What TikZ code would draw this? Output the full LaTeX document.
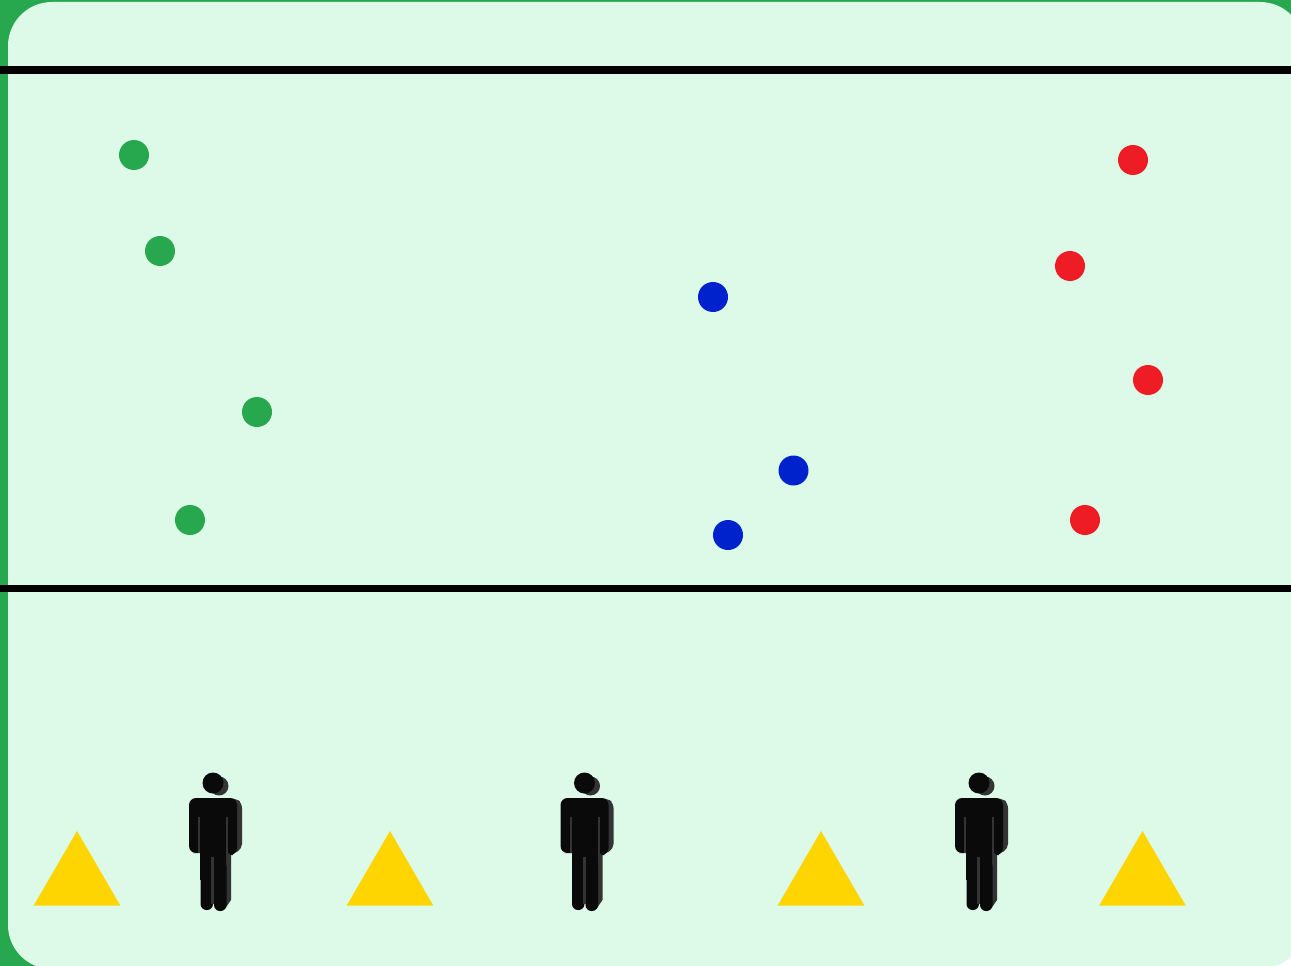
\documentclass[tikz,border=0pt]{standalone}
\definecolor{edgegreen}{HTML}{27A84F}
\definecolor{pale}{HTML}{DDFAE8}
\definecolor{dotgreen}{HTML}{27A84F}
\definecolor{dotred}{HTML}{EE1C25}
\definecolor{dotblue}{HTML}{0022CC}
\definecolor{cone}{HTML}{FFD500}
\definecolor{figfront}{HTML}{0A0A0A}
\definecolor{figside}{HTML}{343434}
\tikzset{
  court/.style={fill=pale,rounded corners=44pt},
  fieldline/.style={draw=black,line width=7.7pt},
  dotg/.style={circle,fill=dotgreen,minimum size=30pt,inner sep=0pt},
  dotr/.style={circle,fill=dotred,minimum size=30pt,inner sep=0pt},
  dotb/.style={circle,fill=dotblue,minimum size=30pt,inner sep=0pt},
  conemark/.style={fill=cone},
  personfig/.pic={
    % side faces
    \fill[figside] (219,786) circle [radius=9.5];
    \fill[figside,rounded corners=5pt] (215,798) -- (236,798.5) -- (242,803) -- (242,849) -- (232,854.5) -- (228,854.5) -- (228,800) -- cycle;
    \fill[figside] (222,850) -- (231,850) -- (231,900) -- (225.5,908) -- (222,908) -- cycle;
    % front: head, torso with arms, legs
    \fill[figfront] (213,783) circle [radius=10.5];
    \fill[figfront,rounded corners=7pt] (189,853) -- (189,798) -- (237,798) -- (237,855) -- (226,855) -- (226,853) -- (200,853) -- cycle;
    \fill[figfront] (200,830) rectangle (226,880);
    \fill[figfront,rounded corners=6pt] (200.5,860) -- (213,860) -- (213,910) -- (200.5,910) -- cycle;
    \fill[figfront,rounded corners=6pt] (214,860) -- (226.5,860) -- (226.5,911) -- (214,911) -- cycle;
    % interior folds
    \fill[figside] (198,817) rectangle (200.3,853);
    \fill[figside] (226,817) rectangle (228.3,853);
    \fill[figside] (211.3,857) rectangle (214.3,904);
  }
}
\begin{document}
\begin{tikzpicture}[x=1pt,y=-1pt]
  \useasboundingbox (0,0) rectangle (1291,966);
  \fill[white] (0,0) rectangle (1291,966);
  \fill[edgegreen] (0,0) -- (1291,0) -- (1291,900) -- (1240,966) -- (0,966) -- cycle;
  \fill[court] (8,2) rectangle (1304,969);
  \draw[fieldline] (0,70.3) -- (1291,70.3);
  \draw[fieldline] (0,588.6) -- (1291,588.6);
  \node[dotg] (g1) at (134,155) {};
  \node[dotg] (g2) at (160,251) {};
  \node[dotg] (g3) at (257,412) {};
  \node[dotg] (g4) at (190,520) {};
  \node[dotb] (b1) at (713,297) {};
  \node[dotb] (b2) at (793.5,470.5) {};
  \node[dotb] (b3) at (728,535) {};
  \node[dotr] (r1) at (1133,160) {};
  \node[dotr] (r2) at (1070,266) {};
  \node[dotr] (r3) at (1148,380) {};
  \node[dotr] (r4) at (1085,520) {};
  \fill[conemark] (77,831) -- (120.3,905.5) -- (33.7,905.5) -- cycle;
  \fill[conemark] (390,831) -- (433.3,905.5) -- (346.7,905.5) -- cycle;
  \fill[conemark] (821,831) -- (864.3,905.5) -- (777.7,905.5) -- cycle;
  \fill[conemark] (1142.5,831) -- (1185.8,905.5) -- (1099.2,905.5) -- cycle;
  \pic at (0,0) {personfig};
  \pic at (371.5,0) {personfig};
  \pic at (766,0) {personfig};
\end{tikzpicture}
\end{document}
